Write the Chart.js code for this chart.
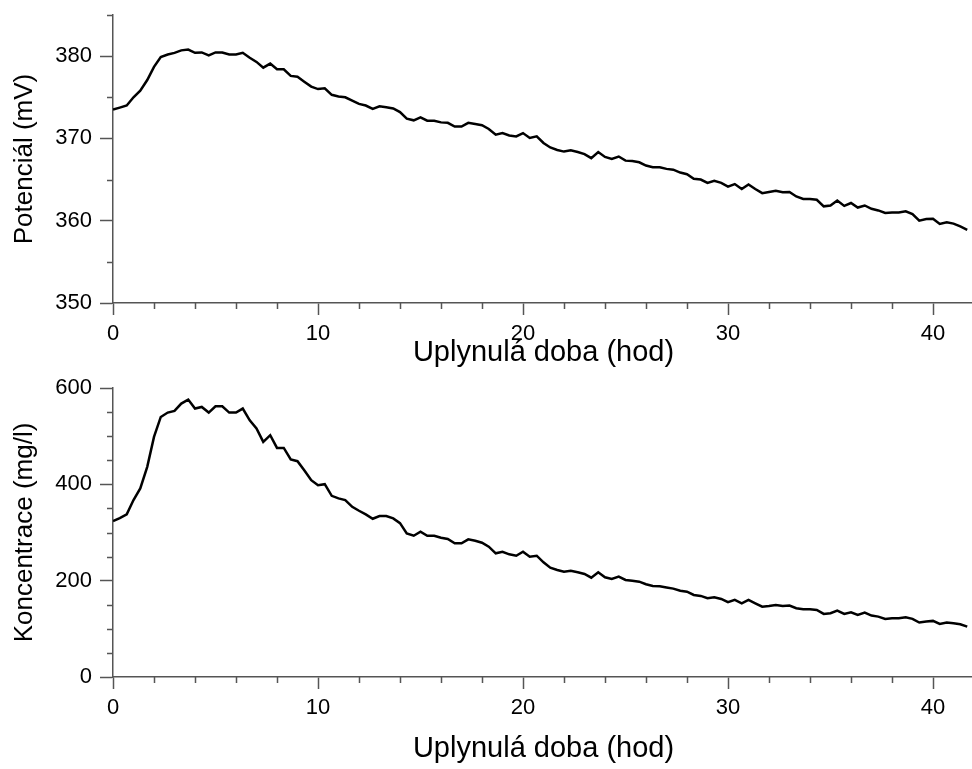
<!DOCTYPE html>
<html><head><meta charset="utf-8">
<script src="https://cdn.jsdelivr.net/npm/chart.js@4/dist/chart.umd.min.js"></script>
<style>
html,body{margin:0;padding:0;background:#fff;overflow:hidden;width:972px;height:769px;position:relative;}
.box{position:absolute;left:0;}
#b1{top:0;}
#b2{top:370px;}
</style></head><body>
<div class="box" id="b1"><canvas id="c1" width="974" height="370"></canvas></div>
<div class="box" id="b2"><canvas id="c2" width="974" height="399"></canvas></div>
<script>
// Elapsed time (hours)
const hours = [
 0,0.33,0.67,1,1.33,1.67,2,2.33,2.67,3,3.33,3.67,4,4.33,4.67,5,5.33,5.67,6,6.33,6.67,7,7.33,7.67,8,8.33,8.67,9,9.33,9.67,
 10,10.33,10.67,11,11.33,11.67,12,12.33,12.67,13,13.33,13.67,14,14.33,14.67,15,15.33,15.67,16,16.33,16.67,17,17.33,17.67,18,18.33,18.67,19,19.33,19.67,
 20,20.33,20.67,21,21.33,21.67,22,22.33,22.67,23,23.33,23.67,24,24.33,24.67,25,25.33,25.67,26,26.33,26.67,27,27.33,27.67,28,28.33,28.67,29,29.33,29.67,
 30,30.33,30.67,31,31.33,31.67,32,32.33,32.67,33,33.33,33.67,34,34.33,34.67,35,35.33,35.67,36,36.33,36.67,37,37.33,37.67,38,38.33,38.67,39,39.33,39.67,
 40,40.33,40.67,41,41.33,41.67
];
// Potential (mV)
const potential = [
 373.5,373.75,374.0,375.0,375.8,377.1,378.7,379.9,380.2,380.4,
 380.7,380.8,380.4,380.45,380.1,380.45,380.45,380.2,380.2,380.4,
 379.8,379.3,378.6,379.1,378.4,378.4,377.6,377.5,376.9,376.3,
 376.0,376.1,375.3,375.1,375.0,374.6,374.2,374.0,373.6,373.9,
 373.8,373.65,373.2,372.4,372.2,372.55,372.15,372.15,371.95,371.9,
 371.45,371.45,371.9,371.75,371.6,371.15,370.45,370.65,370.35,370.25,
 370.65,370.05,370.25,369.45,368.9,368.6,368.4,368.55,368.35,368.1,
 367.6,368.35,367.75,367.5,367.8,367.3,367.25,367.1,366.7,366.5,
 366.5,366.3,366.2,365.85,365.65,365.1,365.0,364.6,364.85,364.6,
 364.15,364.45,363.85,364.4,363.85,363.35,363.5,363.65,363.45,363.5,
 362.95,362.65,362.65,362.55,361.75,361.85,362.45,361.8,362.15,361.6,
 361.85,361.45,361.25,360.95,361.0,361.0,361.15,360.8,360.0,360.2,
 360.25,359.6,359.8,359.65,359.3,358.9
];
// Concentration (mg/l)
const concentration = [
 323.7,330,337.6,367.3,391.5,436.3,498.4,539.9,549,552.4,
 567.7,575.9,557.3,560.6,549,562.1,562.1,549,549,557.3,
 533,515.8,488.1,502,475.6,475.6,451.6,448.1,429.4,408.7,
 398.3,400.4,376.2,370.8,367.3,353.4,345.1,337.6,328.5,334.1,
 334.1,329.3,319.5,298.2,293.3,301.6,293.3,293.3,289.1,286.4,
 277.5,277.5,285.8,282.9,278.8,270.5,256.8,260.1,254.7,251.8,
 260.1,249.7,251.8,238.1,226.9,222.2,218.6,220.7,217.4,213.9,
 206.2,217.4,207,203.5,208.3,201.4,200,197.9,192.5,189,
 188.3,186,183.5,179,177.2,170.4,168.3,163.5,165.6,162.1,
 155.2,160,153.1,160,153.1,146.1,147.6,149.6,147.6,148.2,
 142.8,140.7,140.7,139.3,131,132.4,137.8,131,134.5,128.9,
 133.7,127.5,125.4,120.6,122.1,122.1,124.1,120.6,113,115,
 116.5,110.3,113,111.7,109.6,104.7
];
// Axis ticks and labels
const xTicks = [0,2,4,6,8,10,12,14,16,18,20,22,24,26,28,30,32,34,36,38,40,42];
const xLabels = [0,10,20,30,40];
const potTicks = [350,355,360,365,370,375,380,385];
const potLabels = [350,360,370,380];
const concTicks = [0,50,100,150,200,250,300,350,400,450,500,550,600];
const concLabels = [0,200,400,600];
const xTitle = 'Uplynulá doba (hod)';
const potTitle = 'Potenciál (mV)';
const concTitle = 'Koncentrace (mg/l)';

const AXIS = '#555555';
const FONT = "'Liberation Sans', Arial, sans-serif";

const minorTicks = {
  id: 'minorTicks',
  afterDraw(chart, args, opts) {
    const {ctx, chartArea: a, scales: {x, y}} = chart;
    ctx.save();
    ctx.strokeStyle = AXIS;
    ctx.lineWidth = 1.5;
    ctx.beginPath();
    x.ticks.forEach(t => {
      if (!opts.xMajor.includes(t.value)) {
        const p = Math.round(x.getPixelForValue(t.value)) + 0.5;
        ctx.moveTo(p, a.bottom); ctx.lineTo(p, a.bottom + 6);
      }
    });
    y.ticks.forEach(t => {
      if (!opts.yMajor.includes(t.value)) {
        const p = Math.round(y.getPixelForValue(t.value)) + 0.5;
        ctx.moveTo(a.left - 6, p); ctx.lineTo(a.left, p);
      }
    });
    ctx.stroke();
    ctx.restore();
  }
};

function makeChart(id, values, yMin, yMax, yTicks, yLabels, yTitle, padTop, xAxisH, xTitlePadB) {
  const pts = hours.map((h, i) => ({x: h, y: values[i]}));
  return new Chart(document.getElementById(id), {
    type: 'line',
    data: { datasets: [{ data: pts, borderColor: '#000', borderWidth: 2.5, pointRadius: 0, tension: 0, fill: false }] },
    plugins: [minorTicks],
    options: {
      responsive: false, animation: false, devicePixelRatio: 1,
      layout: { padding: { top: padTop, left: 0, right: 0, bottom: 0 } },
      plugins: { legend: { display: false }, tooltip: { enabled: false }, minorTicks: { xMajor: xLabels, yMajor: yLabels } },
      scales: {
        x: {
          type: 'linear', min: 0, max: 42,
          afterBuildTicks: s => { s.ticks = xTicks.map(v => ({value: v})); },
          afterFit: s => { s.height = xAxisH; s.paddingLeft = 0; s.paddingRight = 0; },
          ticks: { autoSkip: false, maxRotation: 0, color: '#000', padding: 6, font: { family: FONT, size: 22 },
                   callback: v => xLabels.includes(v) ? String(v) : '' },
          grid: { drawOnChartArea: false, tickLength: 12, tickWidth: 1.5,
                  tickColor: c => (c.tick && xLabels.includes(c.tick.value)) ? AXIS : 'rgba(0,0,0,0)' },
          border: { display: true, color: AXIS, width: 1.5 },
          title: { display: true, text: xTitle, color: '#000', font: { family: FONT, size: 29 }, padding: { top: 0, bottom: xTitlePadB } }
        },
        y: {
          type: 'linear', min: yMin, max: yMax,
          afterBuildTicks: s => { s.ticks = yTicks.map(v => ({value: v})); },
          afterFit: s => { s.width = 113; s.paddingTop = 0; s.paddingBottom = 0; },
          ticks: { autoSkip: false, color: '#000', padding: 8, font: { family: FONT, size: 22 },
                   callback: v => yLabels.includes(v) ? String(v) : '' },
          grid: { drawOnChartArea: false, tickLength: 13, tickWidth: 1.5,
                  tickColor: c => (c.tick && yLabels.includes(c.tick.value)) ? AXIS : 'rgba(0,0,0,0)' },
          border: { display: true, color: AXIS, width: 1.5 },
          title: { display: true, text: yTitle, color: '#000', font: { family: FONT, size: 26 }, padding: { top: 9, bottom: 0 } }
        }
      }
    }
  });
}

makeChart('c1', potential, 350, 385, potTicks, potLabels, potTitle, 15, 67, 0);
makeChart('c2', concentration, 0, 600, concTicks, concLabels, concTitle, 18, 92, 3);
</script>
</body></html>
